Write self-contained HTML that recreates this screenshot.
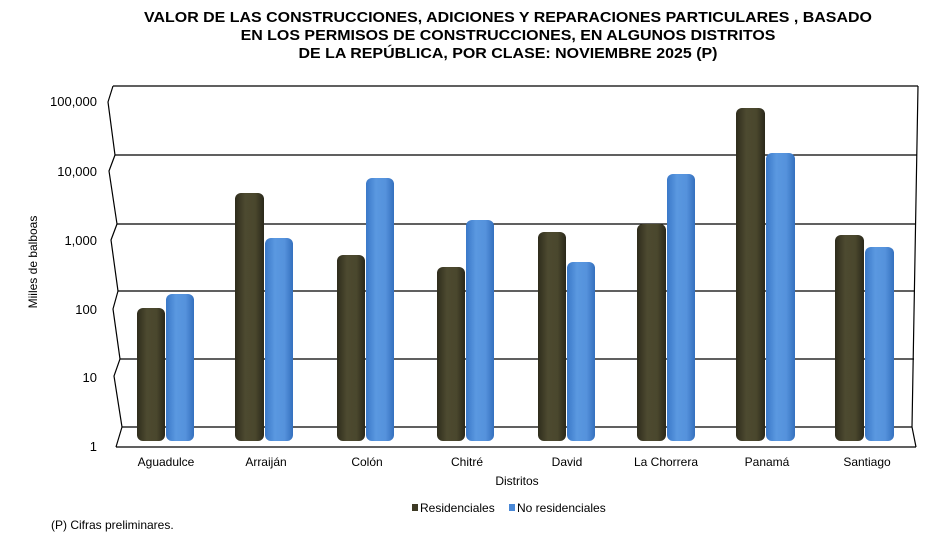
<!DOCTYPE html>
<html><head><meta charset="utf-8"><style>
body{margin:0;background:#fff;}
svg text{font-family:"Liberation Sans",sans-serif;}
</style></head><body>
<svg width="951" height="538" xmlns="http://www.w3.org/2000/svg">
<defs>
<linearGradient id="gd" x1="0" x2="1" y1="0" y2="0">
<stop offset="0" stop-color="#2e2c1c"/><stop offset="0.35" stop-color="#4d4a30"/><stop offset="0.7" stop-color="#4a472d"/><stop offset="1" stop-color="#2a281a"/></linearGradient>
<linearGradient id="gb" x1="0" x2="1" y1="0" y2="0">
<stop offset="0" stop-color="#3a78c8"/><stop offset="0.35" stop-color="#5a98e0"/><stop offset="0.7" stop-color="#5592dc"/><stop offset="1" stop-color="#3470be"/></linearGradient>
</defs>
<g font-weight="bold" font-size="15" text-anchor="middle" fill="#000" transform="translate(508,0) scale(1.065,1) translate(-508,0)">
<text x="508" y="22">VALOR DE LAS CONSTRUCCIONES, ADICIONES Y REPARACIONES PARTICULARES , BASADO</text>
<text x="508" y="40">EN LOS PERMISOS DE CONSTRUCCIONES, EN ALGUNOS DISTRITOS</text>
<text x="508" y="58">DE LA REPÚBLICA, POR CLASE: NOVIEMBRE 2025 (P)</text>
</g>
<g stroke="#000" stroke-width="1.2" fill="none">
<line x1="113" y1="86" x2="918" y2="86"/>
<line x1="115" y1="155" x2="917" y2="155"/>
<line x1="117" y1="224" x2="916" y2="224"/>
<line x1="118" y1="291" x2="915" y2="291"/>
<line x1="120" y1="359" x2="914" y2="359"/>
<line x1="122" y1="427" x2="912" y2="427"/>
<polyline points="113,86 108,102 115,155 109,171 117,224 111,240 118,291 113,309 120,359 114,376 122,427 116,447"/>
<line x1="116" y1="447" x2="916" y2="447"/>
<polyline points="918,86 912,427 916,447"/>
</g>
<g font-size="13" text-anchor="end" fill="#000">
<text x="97" y="106">100,000</text>
<text x="97" y="176">10,000</text>
<text x="97" y="245">1,000</text>
<text x="97" y="314">100</text>
<text x="97" y="382">10</text>
<text x="97" y="451">1</text>
</g>
<text transform="translate(37,262) rotate(-90)" font-size="12" text-anchor="middle">Miiles de balboas</text>
<g>
<rect x="137" y="308" width="28" height="133" rx="6" fill="url(#gd)"/><rect x="166" y="294" width="28" height="147" rx="6" fill="url(#gb)"/>
<rect x="235" y="193" width="29" height="248" rx="6" fill="url(#gd)"/><rect x="265" y="238" width="28" height="203" rx="6" fill="url(#gb)"/>
<rect x="337" y="255" width="28" height="186" rx="6" fill="url(#gd)"/><rect x="366" y="178" width="28" height="263" rx="6" fill="url(#gb)"/>
<rect x="437" y="267" width="28" height="174" rx="6" fill="url(#gd)"/><rect x="466" y="220" width="28" height="221" rx="6" fill="url(#gb)"/>
<rect x="538" y="232" width="28" height="209" rx="6" fill="url(#gd)"/><rect x="567" y="262" width="28" height="179" rx="6" fill="url(#gb)"/>
<rect x="637" y="224" width="29" height="217" rx="6" fill="url(#gd)"/><rect x="667" y="174" width="28" height="267" rx="6" fill="url(#gb)"/>
<rect x="736" y="108" width="29" height="333" rx="6" fill="url(#gd)"/><rect x="766" y="153" width="29" height="288" rx="6" fill="url(#gb)"/>
<rect x="835" y="235" width="29" height="206" rx="6" fill="url(#gd)"/><rect x="865" y="247" width="29" height="194" rx="6" fill="url(#gb)"/>
</g>
<g font-size="12" text-anchor="middle" fill="#000">
<text x="166" y="466">Aguadulce</text>
<text x="266" y="466">Arraiján</text>
<text x="367" y="466">Colón</text>
<text x="467" y="466">Chitré</text>
<text x="567" y="466">David</text>
<text x="666" y="466">La Chorrera</text>
<text x="767" y="466">Panamá</text>
<text x="867" y="466">Santiago</text>
<text x="517" y="485">Distritos</text>
</g>
<rect x="412" y="504" width="6" height="7" fill="#3d3a25"/>
<text x="420" y="512" font-size="12">Residenciales</text>
<rect x="509" y="504" width="6" height="7" fill="#4a88d6"/>
<text x="517" y="512" font-size="12">No residenciales</text>
<text x="51" y="529" font-size="12">(P) Cifras  preliminares.</text>
</svg>
</body></html>
